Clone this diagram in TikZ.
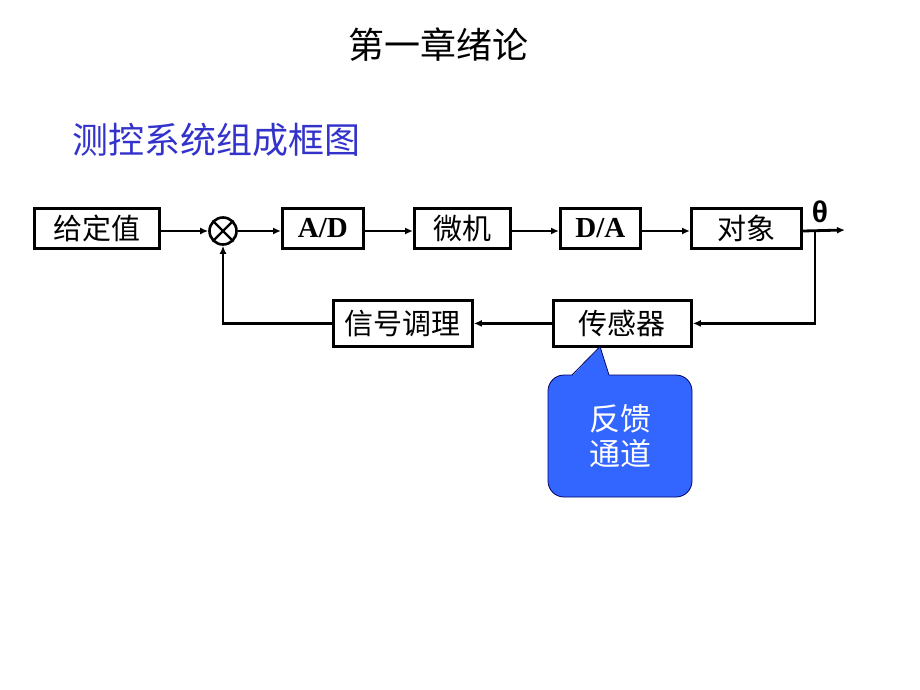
\documentclass[tikz,border=0pt]{standalone}
\usepackage{fontspec}
\setmainfont{Liberation Serif}
\newfontfamily\cjk{Noto Sans CJK SC}
\newfontfamily\thetafont{Liberation Sans}
\usetikzlibrary{arrows.meta}
\definecolor{calloutblue}{HTML}{3366FF}
\definecolor{titleblue}{HTML}{3333CC}
\begin{document}
\begin{tikzpicture}[x=1pt,y=-1pt,
  blk/.style={draw=black,line width=2.8pt,inner sep=0pt,anchor=north west,font=\cjk\fontsize{29}{29}\selectfont},
  conn/.style={line width=2.8pt,-{Latex[length=8pt,width=7pt]}},
  callfill/.style={fill=calloutblue},
  calledge/.style={draw=black!60!blue,line width=0.8pt}]
\useasboundingbox (0,0) rectangle (920,690);
% titles
\node (t1) at (438,45) {\cjk\fontsize{36}{36}\selectfont 第一章绪论};
\node[anchor=west,text=titleblue,inner sep=0pt] (t2) at (72,140) {\cjk\fontsize{36}{36}\selectfont 测控系统组成框图};
% blocks
\node[blk,minimum width=125pt,minimum height=40pt] (gdz) at (33,207) {给定值};
\node[draw,circle,line width=2.6pt,minimum size=27pt,inner sep=0pt] (sum) at (223,231) {};
\draw[line width=2.4pt] (sum.north west) -- (sum.south east) (sum.north east) -- (sum.south west);
\node[blk,minimum width=81pt,minimum height=40pt,font=\bfseries\fontsize{29}{29}\selectfont] (ad) at (281,207) {A/D};
\node[blk,minimum width=96pt,minimum height=40pt] (wj) at (413,207) {微机};
\node[blk,minimum width=80pt,minimum height=40pt,font=\bfseries\fontsize{29}{29}\selectfont] (da) at (559,207) {D/A};
\node[blk,minimum width=110pt,minimum height=40pt] (dx) at (690,207) {对象};
\node[blk,minimum width=138pt,minimum height=46pt] (cgq) at (552,299) {传感器};
\node[blk,minimum width=139pt,minimum height=46pt] (xhtl) at (332,299) {信号调理};
\node[font=\thetafont\bfseries\fontsize{30}{30}\selectfont] (theta) at (820,212) {θ};
\coordinate (out) at (845,230);
\coordinate (br) at (815,230);
% connectors
\draw[conn] (gdz.east |- sum) -- (sum.west);
\draw[conn] (sum.east) -- (ad.west |- sum);
\draw[conn] (ad.east |- sum) -- (wj.west |- sum);
\draw[conn] (wj.east |- sum) -- (da.west |- sum);
\draw[conn] (da.east |- sum) -- (dx.west |- sum);
\draw[conn] (dx.east |- sum) -- (out);
\draw[conn] (br) -- (br |- cgq.east) -- (cgq.east);
\draw[conn] (cgq.west) -- (xhtl.east);
\draw[conn] (xhtl.west) -- (sum |- xhtl.west) -- (sum.south);
% callout
\draw[callfill,calledge,rounded corners=16pt] (548,375) rectangle (692,497);
\fill[callfill] (572,376.2) -- (600,346.5) -- (609,376.2) -- cycle;
\draw[calledge,line join=round] (572,375) -- (600,346.5) -- (609,375);
\node[text=white,align=center,font=\cjk\fontsize{31}{35}\selectfont] (fk) at (620,436) {反馈\\通道};
\end{tikzpicture}
\end{document}
